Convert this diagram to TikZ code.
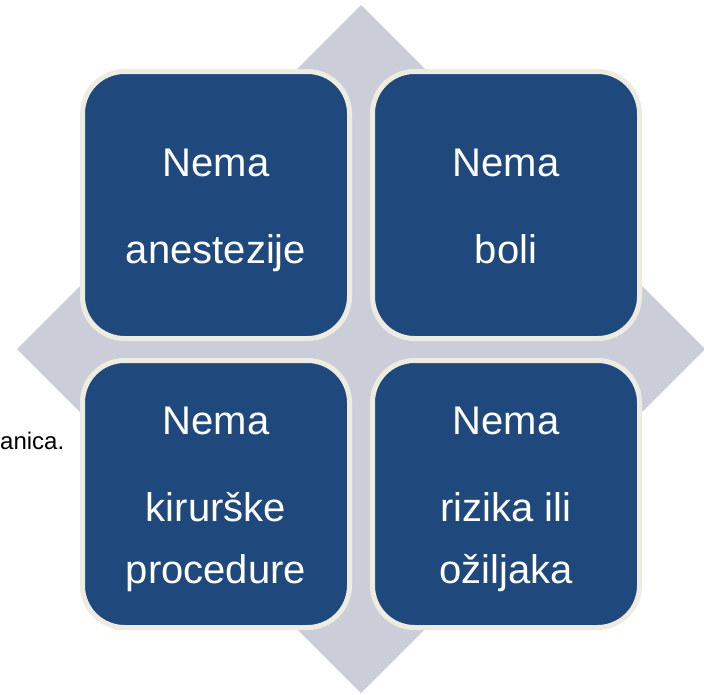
\documentclass[tikz,border=0pt]{standalone}
\usepackage{fontspec}
\setmainfont{Liberation Sans}
\definecolor{boxblue}{HTML}{1F497D}
\definecolor{boxrim}{HTML}{EEECE1}
\definecolor{diamondgray}{HTML}{CBCED9}
\newcommand{\toppad}{\rule{0pt}{38pt}}
\newcommand{\botpad}{\vphantom{jp}}
\tikzset{
  card/.style={draw=boxrim, line width=5pt, fill=boxblue, rounded corners=42pt,
    minimum width=267pt, minimum height=267pt, inner sep=0pt,
    text=white, align=center, font=\fontsize{40}{62}\selectfont},
}
\begin{document}
\begin{tikzpicture}[x=1pt,y=-1pt]
\useasboundingbox (0,0) rectangle (704,694);
\fill[diamondgray] (361,5) -- (705,349) -- (361,693) -- (17,349) -- cycle;
\node[anchor=base west, font=\fontsize{24}{28}\selectfont, inner sep=0pt] (cut) at (0,449) {anica.};
\node[card] (tl) at (216,205) {\toppad Nema\\[25pt]anestezije\botpad};
\node[card] (tr) at (506,205) {\toppad Nema\\[25pt]boli\botpad};
\node[card] (bl) at (216,494) {\toppad Nema\\[25pt]kirurške\\procedure\botpad};
\node[card] (br) at (506,494) {\toppad Nema\\[25pt]rizika ili\\ožiljaka\botpad};
\end{tikzpicture}
\end{document}
